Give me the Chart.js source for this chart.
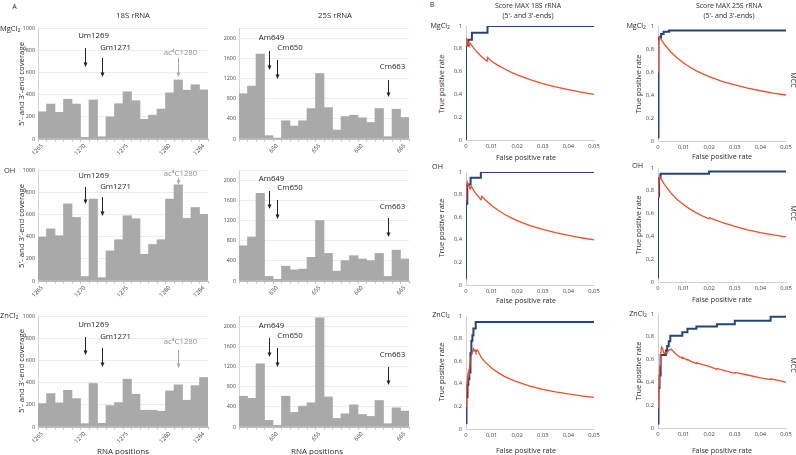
<!DOCTYPE html>
<html><head><meta charset="utf-8">
<script src="https://cdn.jsdelivr.net/npm/chart.js@4.4.1/dist/chart.umd.min.js"></script>
<style>
html,body{margin:0;padding:0;background:#fff;}
#wrap{position:relative;width:796px;height:455px;overflow:hidden;font-family:"Open Sans","DejaVu Sans",sans-serif;color:#2b2b2b;}
canvas{position:absolute;}
.t{position:absolute;white-space:nowrap;line-height:1;}
sub{font-size:70%;vertical-align:-1px;line-height:0;}
</style></head><body><div id="wrap"></div>
<script>
// ---------------- DATA ----------------
const rnaPos18S = [1265,1266,1267,1268,1269,1270,1271,1272,1273,1274,1275,1276,1277,1278,1279,1280,1281,1282,1283,1284];
const rnaPos25S = [646,647,648,649,650,651,652,653,654,655,656,657,658,659,660,661,662,663,664,665];
const tickLabels18S = [1265,1270,1275,1280,1284];
const tickLabels25S = [650,655,660,665];
const yTicks18S = [0,200,400,600,800,1000];
const yTicks25S = [0,400,800,1200,1600,2000];

const cov18S_MgCl2 = [245,315,240,358,315,15,352,20,200,318,425,345,177,215,270,416,532,440,489,443];
const cov18S_OH    = [396,470,408,695,573,40,738,30,271,372,588,561,241,329,372,738,866,564,662,600];
const cov18S_ZnCl2 = [211,301,217,331,256,30,392,33,193,220,431,295,151,151,142,325,380,241,373,446];
const cov25S_MgCl2 = [898,1049,1685,66,20,361,256,361,603,1298,623,177,446,472,420,328,603,46,590,426];
const cov25S_OH    = [697,873,1739,91,33,293,221,235,469,1199,547,195,404,502,436,404,547,91,612,436];
const cov25S_ZnCl2 = [610,567,1252,131,33,610,289,413,479,2164,597,170,262,439,249,210,525,66,380,315];

const fprTicks = [0,0.01,0.02,0.03,0.04,0.05];
const tprTicks = [0,0.2,0.4,0.6,0.8,1];

const roc18S_MgCl2_fpr = [0,0,0.0009,0.0009,0.0023,0.0023,0.0084,0.0084,0.05];
const roc18S_MgCl2_tpr = [0,0.83,0.83,0.88,0.88,0.94,0.94,1,1];
const mcc18S_MgCl2_fpr = [0,0.0003,0.0013,0.0016,0.0028,0.004,0.006,0.0082,0.0085,0.01,0.0125,0.015,0.0175,0.02,0.025,0.03,0.035,0.04,0.045,0.05];
const mcc18S_MgCl2_mcc = [0.83,0.88,0.825,0.85,0.813,0.78,0.733,0.69,0.725,0.69,0.655,0.625,0.596,0.572,0.529,0.494,0.466,0.442,0.42,0.40];

const roc25S_MgCl2_fpr = [0,0,0.0003,0.0003,0.0012,0.0012,0.0022,0.0022,0.0043,0.0043,0.05];
const roc25S_MgCl2_tpr = [0.03,0.8,0.8,0.9,0.9,0.93,0.93,0.95,0.95,0.96,0.96];
const mcc25S_MgCl2_fpr = [0,0.0002,0.0006,0.0012,0.0025,0.005,0.0075,0.01,0.0125,0.015,0.0175,0.02,0.025,0.03,0.035,0.04,0.045,0.05];
const mcc25S_MgCl2_mcc = [0.6,0.85,0.905,0.883,0.841,0.774,0.721,0.678,0.641,0.61,0.583,0.559,0.519,0.487,0.46,0.437,0.417,0.40];

const roc18S_OH_fpr = [0,0,0.0005,0.0005,0.0018,0.0018,0.0058,0.0058,0.05];
const roc18S_OH_tpr = [0.05,0.72,0.72,0.89,0.89,0.95,0.95,1,1];
const mcc18S_OH_fpr = [0,0.0002,0.0005,0.0016,0.002,0.003,0.004,0.0058,0.0062,0.0075,0.01,0.0125,0.015,0.0175,0.02,0.025,0.03,0.035,0.04,0.045,0.05];
const mcc18S_OH_mcc = [0.76,0.85,0.91,0.85,0.875,0.838,0.805,0.755,0.785,0.754,0.703,0.661,0.626,0.596,0.57,0.526,0.492,0.463,0.439,0.418,0.40];

const roc25S_OH_fpr = [0,0,0.0004,0.0004,0.001,0.001,0.0199,0.0199,0.05];
const roc25S_OH_tpr = [0.03,0.75,0.75,0.91,0.91,0.95,0.95,0.97,0.97];
const mcc25S_OH_fpr = [0,0.0002,0.0006,0.0012,0.0025,0.005,0.0075,0.01,0.0125,0.015,0.0175,0.0199,0.0201,0.025,0.03,0.035,0.04,0.045,0.05];
const mcc25S_OH_mcc = [0.75,0.85,0.93,0.905,0.857,0.782,0.724,0.678,0.639,0.606,0.578,0.555,0.565,0.522,0.487,0.458,0.434,0.413,0.395];

const roc18S_ZnCl2_fpr = [0,0,0.0003,0.0003,0.0006,0.0006,0.0009,0.0009,0.0013,0.0013,0.0016,0.0016,0.0018,0.0018,0.0021,0.0021,0.0025,0.0025,0.0029,0.0029,0.0038,0.0038,0.05];
const roc18S_ZnCl2_tpr = [0.05,0.22,0.22,0.28,0.28,0.39,0.39,0.44,0.44,0.5,0.5,0.61,0.61,0.67,0.67,0.78,0.78,0.83,0.83,0.89,0.89,0.947,0.947];
const mcc18S_ZnCl2_fpr = [0,0.0002,0.0004,0.0006,0.0009,0.0011,0.0013,0.0016,0.0019,0.0022,0.0026,0.0029,0.0032,0.0036,0.0039,0.0043,0.0047,0.006,0.0075,0.01,0.0125,0.015,0.0175,0.02,0.025,0.03,0.035,0.04,0.045,0.05];
const mcc18S_ZnCl2_mcc = [0.2,0.3,0.42,0.46,0.5,0.47,0.52,0.6,0.63,0.66,0.69,0.71,0.69,0.70,0.68,0.70,0.69,0.632,0.592,0.54,0.499,0.466,0.439,0.417,0.38,0.351,0.329,0.31,0.294,0.28];

const roc25S_ZnCl2_fpr = [0,0,0.0003,0.0003,0.0006,0.0006,0.0009,0.0009,0.0011,0.0011,0.0031,0.0031,0.0036,0.0036,0.0042,0.0042,0.0048,0.0048,0.0095,0.0095,0.0115,0.0115,0.015,0.015,0.023,0.023,0.03,0.03,0.044,0.044,0.05];
const roc25S_ZnCl2_tpr = [0.04,0.17,0.17,0.35,0.35,0.46,0.46,0.55,0.55,0.64,0.64,0.68,0.68,0.72,0.72,0.76,0.76,0.81,0.81,0.84,0.84,0.87,0.87,0.89,0.89,0.91,0.91,0.94,0.94,0.975,0.975];
const mcc25S_ZnCl2_fpr = [0,0.0002,0.0004,0.0006,0.0008,0.001,0.0014,0.0018,0.0022,0.0026,0.003,0.0034,0.0038,0.0044,0.0052,0.0065,0.008,0.0095,0.0096,0.0115,0.0116,0.013,0.015,0.0151,0.0175,0.02,0.023,0.0231,0.026,0.03,0.0301,0.035,0.04,0.044,0.0441,0.047,0.05];
const mcc25S_ZnCl2_mcc = [0.18,0.22,0.38,0.52,0.55,0.64,0.71,0.70,0.66,0.655,0.665,0.655,0.67,0.685,0.69,0.66,0.63,0.61,0.62,0.595,0.6,0.585,0.565,0.572,0.555,0.54,0.515,0.522,0.503,0.48,0.487,0.465,0.44,0.425,0.432,0.418,0.40];

// ---------------- LAYOUT / STYLE ----------------
const FONT = '"Open Sans", "DejaVu Sans", sans-serif';
Chart.defaults.font.family = FONT;
const wrap = document.getElementById('wrap');
const BAR_COLOR = '#a9a9a9', BLUE = '#264478', ORANGE = '#e8502d', TICK = '#444';

function makeCanvas(x, y, w, h) {
  const c = document.createElement('canvas');
  c.width = w; c.height = h;
  c.style.left = x + 'px'; c.style.top = y + 'px';
  c.style.width = w + 'px'; c.style.height = h + 'px';
  wrap.appendChild(c);
  return c;
}

function arrowPlugin(notes) {
  return {
    id: 'arrows',
    afterDatasetsDraw(chart) {
      const ctx = chart.ctx, xs = chart.scales.x, ys = chart.scales.y;
      notes.forEach(n => {
        const x = Math.round(xs.getPixelForValue(n.i)) + 0.5;
        const y1 = ys.getPixelForValue(n.from), y2 = ys.getPixelForValue(n.to), ty = ys.getPixelForValue(n.text);
        ctx.save();
        ctx.strokeStyle = n.color; ctx.fillStyle = n.color; ctx.lineWidth = 1;
        ctx.beginPath(); ctx.moveTo(x, y1); ctx.lineTo(x, y2 - 3); ctx.stroke();
        ctx.beginPath(); ctx.moveTo(x - 2, y2 - 4.5); ctx.lineTo(x + 2, y2 - 4.5); ctx.lineTo(x, y2); ctx.closePath(); ctx.fill();
        ctx.font = '7.8px ' + FONT; ctx.textAlign = 'center'; ctx.textBaseline = 'middle';
        ctx.fillStyle = n.color === '#222' ? '#1e1e1e' : '#8f8f8f';
        ctx.fillText(n.label, x + n.dx, ty);
        ctx.restore();
      });
    }
  };
}

function barChart(rect, labels, values, max, yTicks, shown, notes) {
  const YW = 20, PT = 12, PR = 8, XH = 22;
  const w = rect.w + YW + PR, h = rect.h + PT + XH;
  const c = makeCanvas(rect.x - YW, rect.y - PT, w, h);
  new Chart(c, {
    type: 'bar',
    data: { labels: labels, datasets: [{ data: values, backgroundColor: BAR_COLOR, borderWidth: 0, barPercentage: 1, categoryPercentage: 1 }] },
    options: {
      responsive: false, animation: false, devicePixelRatio: 1,
      layout: { padding: { left: 0, top: PT, right: PR, bottom: 0 } },
      plugins: { legend: { display: false }, tooltip: { enabled: false } },
      scales: {
        x: {
          grid: { offset: true, drawOnChartArea: false, tickLength: 2.5, color: '#bdbdbd' },
          border: { color: '#bdbdbd' },
          ticks: {
            autoSkip: false, maxRotation: 45, minRotation: 45, padding: 1,
            font: { size: 5.8 }, color: TICK,
            callback: function (v) { const l = this.getLabelForValue(v); return shown.includes(l) ? String(l) : ''; }
          },
          afterFit: s => { s.height = XH; }
        },
        y: {
          min: 0, max: max,
          grid: { color: '#ececec', drawTicks: false },
          border: { color: '#d4d4d4' },
          ticks: { padding: 3, font: { size: 5.4 }, color: TICK, callback: v => yTicks.includes(v) ? String(v) : '' },
          afterBuildTicks: s => { const t = yTicks.slice(); if (max > t[t.length - 1]) t.push(max); s.ticks = t.map(v => ({ value: v })); },
          afterFit: s => { s.width = YW; }
        }
      }
    },
    plugins: [arrowPlugin(notes)]
  });
}

const fmt = v => v === 0 ? '0' : String(+v.toFixed(2)).replace('.', ',');

function rocChart(rect, fpr, tpr, mfpr, mcc) {
  const YW = 14, PT = 10, PR = 12, XH = 16;
  const w = rect.w + YW + PR, h = rect.h + PT + XH;
  const c = makeCanvas(rect.x - YW, rect.y - PT, w, h);
  new Chart(c, {
    type: 'line',
    data: {
      datasets: [
        { data: mfpr.map((x, i) => ({ x: x, y: mcc[i] })), borderColor: ORANGE, borderWidth: 1.3, pointRadius: 0, tension: 0, fill: false },
        { data: fpr.map((x, i) => ({ x: x, y: tpr[i] })), borderColor: BLUE, borderWidth: 2, pointRadius: 0, tension: 0, fill: false }
      ]
    },
    options: {
      responsive: false, animation: false, devicePixelRatio: 1,
      layout: { padding: { left: 0, top: PT, right: PR, bottom: 0 } },
      plugins: { legend: { display: false }, tooltip: { enabled: false } },
      scales: {
        x: {
          type: 'linear', min: 0, max: 0.05,
          grid: { drawOnChartArea: false, drawTicks: false },
          border: { color: '#d0d0d0' },
          ticks: { padding: 3, font: { size: 5.8 }, color: TICK, callback: v => fmt(v) },
          afterBuildTicks: s => { s.ticks = fprTicks.map(v => ({ value: v })); },
          afterFit: s => { s.height = XH; }
        },
        y: {
          min: 0, max: 1,
          grid: { drawOnChartArea: false, drawTicks: false },
          border: { color: '#d0d0d0' },
          ticks: { padding: 4, font: { size: 5.8 }, color: TICK, callback: v => fmt(v) },
          afterBuildTicks: s => { s.ticks = tprTicks.map(v => ({ value: v })); },
          afterFit: s => { s.width = YW; }
        }
      }
    }
  });
}

// ---------------- ANNOTATIONS (arrows) ----------------
const K = '#222', G = '#a8a8a8';
const notes18 = [
  [{label:'Um1269', i:5, text:928, from:820, to:649, dx:8, color:K},
   {label:'Gm1271', i:7, text:820, from:730, to:559, dx:13, color:K},
   {label:'ac\u2074C1280', i:16, text:775, from:730, to:559, dx:2, color:G}],
  [{label:'Um1269', i:5, text:946, from:847, to:694, dx:8, color:K},
   {label:'Gm1271', i:7, text:847, from:757, to:586, dx:13, color:K},
   {label:'ac\u2074C1280', i:16, text:964, from:928, to:866, dx:2, color:G}],
  [{label:'Um1269', i:5, text:919, from:811, to:649, dx:8, color:K},
   {label:'Gm1271', i:7, text:811, from:712, to:541, dx:13, color:K},
   {label:'ac\u2074C1280', i:16, text:766, from:694, to:532, dx:2, color:G}]
];
const notes25 = [
  [{label:'Am649', i:3, text:2002, from:1744, to:1368, dx:2, color:K},
   {label:'Cm650', i:4, text:1804, from:1566, to:1189, dx:12.5, color:K},
   {label:'Cm663', i:17, text:1427, from:1169, to:832, dx:4, color:K}],
  [{label:'Am649', i:3, text:2022, from:1784, to:1427, dx:2, color:K},
   {label:'Cm650', i:4, text:1843, from:1605, to:1229, dx:12.5, color:K},
   {label:'Cm663', i:17, text:1467, from:1249, to:872, dx:4, color:K}],
  [{label:'Am649', i:3, text:2002, from:1764, to:1387, dx:2, color:K},
   {label:'Cm650', i:4, text:1804, from:1566, to:1189, dx:12.5, color:K},
   {label:'Cm663', i:17, text:1427, from:1189, to:832, dx:4, color:K}]
];

// ---------------- CHARTS ----------------
const barRowsY = [28, 170, 316];
barChart({x:38, y:barRowsY[0], w:170, h:111}, rnaPos18S, cov18S_MgCl2, 1000, yTicks18S, tickLabels18S, notes18[0]);
barChart({x:38, y:barRowsY[1], w:170, h:111}, rnaPos18S, cov18S_OH, 1000, yTicks18S, tickLabels18S, notes18[1]);
barChart({x:38, y:barRowsY[2], w:170, h:111}, rnaPos18S, cov18S_ZnCl2, 1000, yTicks18S, tickLabels18S, notes18[2]);
barChart({x:239, y:barRowsY[0], w:170, h:111}, rnaPos25S, cov25S_MgCl2, 2200, yTicks25S, tickLabels25S, notes25[0]);
barChart({x:239, y:barRowsY[1], w:170, h:111}, rnaPos25S, cov25S_OH, 2200, yTicks25S, tickLabels25S, notes25[1]);
barChart({x:239, y:barRowsY[2], w:170, h:111}, rnaPos25S, cov25S_ZnCl2, 2200, yTicks25S, tickLabels25S, notes25[2]);

rocChart({x:466, y:26, w:128, h:114}, roc18S_MgCl2_fpr, roc18S_MgCl2_tpr, mcc18S_MgCl2_fpr, mcc18S_MgCl2_mcc);
rocChart({x:658, y:26, w:128, h:115}, roc25S_MgCl2_fpr, roc25S_MgCl2_tpr, mcc25S_MgCl2_fpr, mcc25S_MgCl2_mcc);
rocChart({x:466, y:172, w:128, h:113}, roc18S_OH_fpr, roc18S_OH_tpr, mcc18S_OH_fpr, mcc18S_OH_mcc);
rocChart({x:658, y:168, w:128, h:114}, roc25S_OH_fpr, roc25S_OH_tpr, mcc25S_OH_fpr, mcc25S_OH_mcc);
rocChart({x:466, y:316, w:128, h:113}, roc18S_ZnCl2_fpr, roc18S_ZnCl2_tpr, mcc18S_ZnCl2_fpr, mcc18S_ZnCl2_mcc);
rocChart({x:658, y:314, w:128, h:114}, roc25S_ZnCl2_fpr, roc25S_ZnCl2_tpr, mcc25S_ZnCl2_fpr, mcc25S_ZnCl2_mcc);

// ---------------- TEXT ----------------
function txt(html, x, y, size, mode, color) {
  const d = document.createElement('div');
  d.className = 't';
  d.innerHTML = html;
  d.style.left = x + 'px'; d.style.top = y + 'px';
  d.style.fontSize = size + 'px';
  if (color) d.style.color = color;
  const tf = { c: 'translate(-50%,-50%)', l: 'translate(0,-50%)', r: 'translate(-100%,-50%)',
               rl: 'translate(-50%,-50%) rotate(-90deg)', rr: 'translate(-50%,-50%) rotate(90deg)' };
  d.style.transform = tf[mode || 'c'];
  wrap.appendChild(d);
}
const MG = 'MgCl<sub>2</sub>', ZN = 'ZnCl<sub>2</sub>';
txt('A', 14.5, 5.5, 7, 'c');
txt('B', 432, 4, 7, 'c');
txt('18S rRNA', 133, 16, 7.8, 'c');
txt('25S rRNA', 335, 16, 7.8, 'c');
txt('Score MAX 18S rRNA', 528, 6, 6.9, 'c');
txt('(5\'- and 3\'-ends)', 528, 16, 6.9, 'c');
txt('Score MAX 25S rRNA', 729, 6, 6.9, 'c');
txt('(5\'- and 3\'-ends)', 729, 16, 6.9, 'c');
// row labels
txt(MG, 0, 29, 7.5, 'l');
txt('OH', 4, 171, 7.5, 'l');
txt(ZN, 0, 316, 7.5, 'l');
txt(MG, 450, 26, 7.2, 'r');
txt(MG, 646, 26, 7.2, 'r');
txt('OH', 443, 167, 7.2, 'r');
txt('OH', 643, 166, 7.2, 'r', '#2b2b2b');
txt(ZN, 450, 315, 7.2, 'r');
txt(ZN, 647, 314, 7.2, 'r');
// axis titles bars
[84, 226, 371].forEach(y => txt('5\'- and 3\'-end coverage', 22, y, 7.8, 'rl'));
txt('RNA positions', 123, 450.5, 8, 'c');
txt('RNA positions', 317, 450.5, 8, 'c');
// axis titles ROC
[[442,84],[639,84],[442,228],[639,225],[442,372],[639,371]].forEach(p => txt('True positive rate', p[0], p[1], 7.2, 'rl'));
[[526,158],[722,157],[526,301],[722,300],[526,450.5],[722,450.5]].forEach(p => txt('False positive rate', p[0], p[1], 7.2, 'c'));
[80, 213, 365].forEach(y => txt('MCC', 793, y, 7.2, 'rr'));
</script>
</body></html>
